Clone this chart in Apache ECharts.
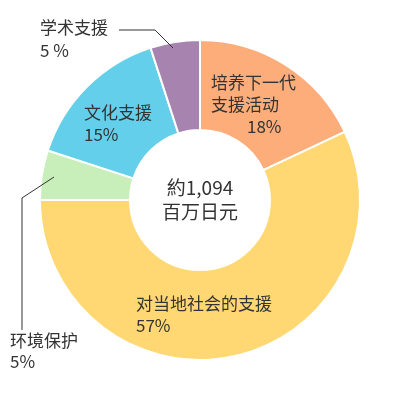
<!DOCTYPE html>
<html>
<head>
<meta charset="utf-8">
<script src="https://cdn.jsdelivr.net/npm/echarts@6/dist/echarts.min.js"></script>
<style>
  html, body { margin: 0; padding: 0; background: #fff; }
  #chart { width: 400px; height: 400px; }
</style>
</head>
<body>
<div id="chart"></div>
<script>
// 数据
const categories = ['培养下一代\n支援活动', '对当地社会的支援', '环境保护', '文化支援', '学术支援']
const shares = [18, 57, 5, 15, 5]
const shareLabels = ['18%', '57%', '5%', '15%', '5 %']
const totalText = '約1,094\n百万日元'

const colors = ['#FDAD7A', '#FFD873', '#C8EEB9', '#63CFEA', '#A784AF']
// 标签位置 (左边 x, 中心 y, 行高)
const labelPlaces = [
  { x: 211, y: 105, lh: 22 },
  { x: 136, y: 315, lh: 22 },
  { x: 10, y: 351, lh: 21 },
  { x: 84, y: 124, lh: 22 },
  { x: 40, y: 39, lh: 23 }
]
const pctIndent = [36, 0, 0, 0, 0] // 百分比行的缩进
const leaderLines = [ // 引导线, 画在扇区上面
  [[54, 177], [22, 198], [22, 330]],
  [[173, 48], [155, 30], [119, 30]]
]

const chart = echarts.init(document.getElementById('chart'))

const seriesData = categories.map((name, i) => {
  const lh = labelPlaces[i].lh
  return {
    name: name,
    value: shares[i],
    itemStyle: { color: colors[i] },
    label: {
      formatter: name.split('\n').map(s => '{n' + i + '|' + s + '}').join('\n') + '\n{p' + i + '|' + shareLabels[i] + '}',
      rich: {
        ['n' + i]: { fontSize: 17, lineHeight: lh, color: '#333', fontFamily: 'Noto Sans CJK SC' },
        ['p' + i]: { fontSize: 17, lineHeight: lh, color: '#333', fontFamily: 'Noto Sans CJK SC', padding: [0, 0, 0, pctIndent[i]] }
      }
    }
  }
})

chart.setOption({
  animation: false,
  graphic: [{
    type: 'text',
    left: 'center',
    top: 'middle',
    style: {
      text: totalText,
      fontSize: 19,
      lineHeight: 24,
      fill: '#333',
      textAlign: 'center',
      fontFamily: 'Noto Sans CJK SC'
    }
  }].concat(leaderLines.map(pts => ({
    type: 'polyline',
    z: 100,
    shape: { points: pts },
    style: { stroke: '#333', lineWidth: 1, fill: null }
  }))),
  series: [{
    type: 'pie',
    center: [200, 200],
    radius: [70, 160],
    startAngle: 90,
    clockwise: true,
    avoidLabelOverlap: false,
    itemStyle: { borderColor: '#fff', borderWidth: 2 },
    label: { show: true, position: 'inside', color: '#333' },
    labelLine: { show: false },
    labelLayout: function (params) {
      const p = labelPlaces[params.dataIndex]
      return { x: p.x, y: p.y, align: 'left', verticalAlign: 'middle' }
    },
    data: seriesData
  }]
})
</script>
</body>
</html>
